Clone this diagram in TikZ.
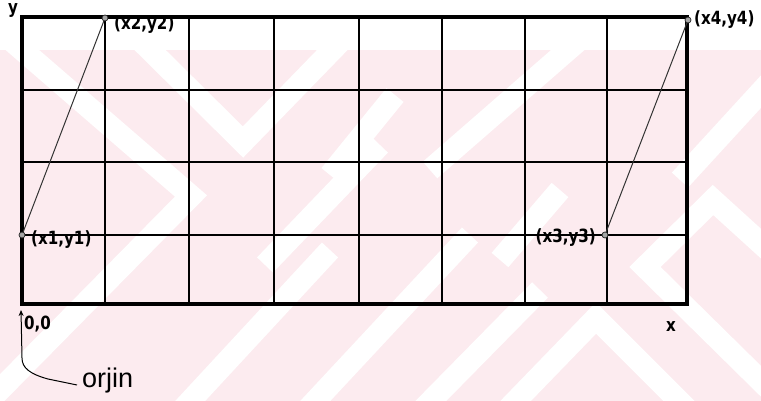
\documentclass[tikz,border=0pt]{standalone}
\usepackage{fontspec}
\setmainfont{DejaVu Sans}
\newfontfamily\lblfont{DejaVu Sans}
\newfontfamily\orfont{Liberation Sans}
\usetikzlibrary{arrows.meta}
\definecolor{wm}{RGB}{252,235,239}
\newcommand{\lbltext}[1]{\scalebox{1.08}[1.3]{#1}}
\tikzset{
  gridline/.style={line width=2.6pt, black},
  frameline/.style={line width=3.2pt, black},
  slant/.style={line width=1pt, black!80},
  pt/.style={circle, draw=black!85, fill=gray!70, line width=0.7pt, minimum size=6pt, inner sep=0pt},
  lbl/.style={font=\lblfont\bfseries\fontsize{14}{14}\selectfont, inner sep=0pt},
  wmstripe/.style={line width=22pt, white, line join=miter}
}
\begin{document}
\begin{tikzpicture}[x=1pt,y=-1pt]
\useasboundingbox (0,0) rectangle (761,401);
% watermark (faint background pattern)
\begin{scope}
\clip (0,50) rectangle (761,401);
\fill[wm] (0,50) rectangle (761,401);
\draw[wmstripe] (140,40) -- (243,142) -- (342,40);
\draw[wmstripe] (5,35) -- (191,196) -- (-10,400);
\draw[wmstripe] (505,412) -- (596,318) -- (690,412);
\draw[wmstripe] (780,400) -- (645,267) -- (713,200) -- (790,270);
\draw[wmstripe] (680,180) -- (790,60);
\draw[wmstripe] (430,170) -- (585,35);
\draw[wmstripe] (330,175) -- (395,95);
\draw[wmstripe] (265,265) -- (380,145);
\draw[wmstripe] (180,412) -- (330,250);
\draw[wmstripe] (305,412) -- (470,235);
\draw[wmstripe] (420,412) -- (540,290);
\draw[wmstripe] (500,260) -- (560,190);
\end{scope}
% grid
\foreach \x in {105,189,274,359,442,525,607}
  \draw[gridline] (\x,17) -- (\x,304);
\foreach \y in {90,162,235}
  \draw[gridline] (22,\y) -- (687,\y);
\draw[frameline] (22,17) rectangle (687,304);
% points
\node[pt] (p1) at (22,235) {};
\node[pt] (p2) at (105,18) {};
\node[pt] (p3) at (605,235) {};
\node[pt] (p4) at (688,20) {};
\draw[slant] (p1) -- (p2);
\draw[slant] (p3) -- (p4);
% labels
\node[lbl, anchor=west] (l1) at (31,240) {\lbltext{(x1,y1)}};
\node[lbl, anchor=west] (l2) at (114,25) {\lbltext{(x2,y2)}};
\node[lbl, anchor=east] (l3) at (596,238) {\lbltext{(x3,y3)}};
\node[lbl, anchor=west] (l4) at (694,20) {\lbltext{(x4,y4)}};
\node[lbl, anchor=west] (o) at (24,324) {\lbltext{0,0}};
\node[lbl] (xl) at (671,327) {\lbltext{x}};
\node[lbl] (yl) at (13,10) {\lbltext{y}};
\node[font=\orfont\fontsize{27}{27}\selectfont, anchor=base west, inner sep=0pt] (orjin) at (82,387) {orjin};
\coordinate (tip) at (21,310);
\coordinate (oend) at (77,385);
\draw[line width=1pt, -{Stealth[length=6pt,width=5pt]}] (oend) -- (48,379) .. controls (30,374) and (22,368) .. (22,358) -- (tip);
\end{tikzpicture}
\end{document}
